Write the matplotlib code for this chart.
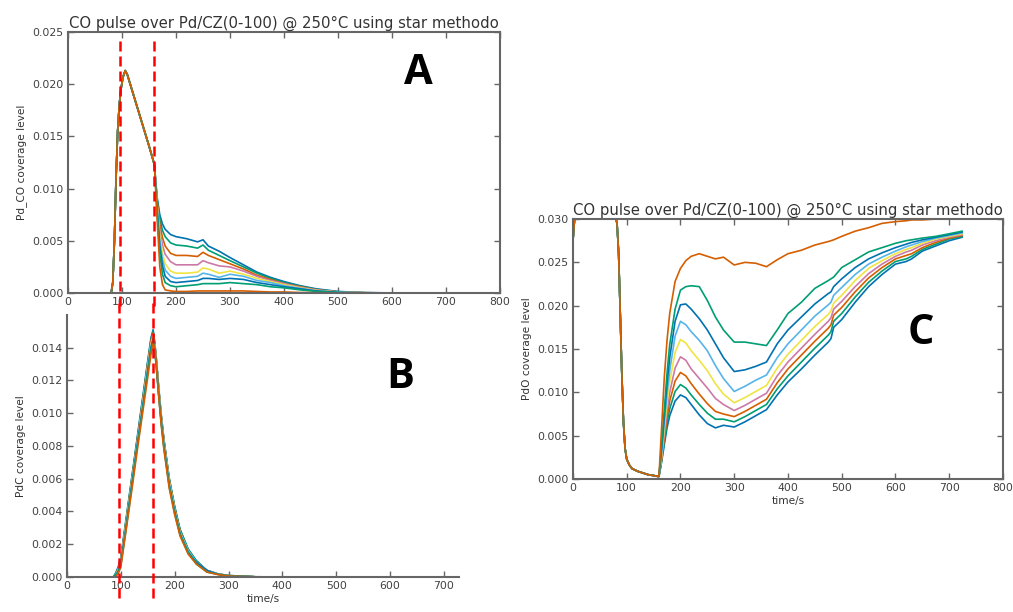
import numpy as np
import matplotlib
matplotlib.use('Agg')
import matplotlib.pyplot as plt

# old seaborn colorblind cycle
colors = ['#0072B2', '#009E73', '#D55E00', '#CC79A7', '#F0E442', '#56B4E9']
title = 'CO pulse over Pd/CZ(0-100) @ 250°C using star methodo'
pulse_marks = [97, 160]

# --- panel A: Pd_CO coverage (rise shared by all runs, tail per run) ---
t_co_rise = [0, 80, 83, 86, 89, 92, 95, 98, 102, 106, 110, 120, 130, 140, 150]
co_rise = [0, 0, 0.001, 0.005, 0.011, 0.0155, 0.018, 0.0195, 0.0207, 0.0213,
           0.0209, 0.0192, 0.0175, 0.0158, 0.0141]
t_co_tail = [160, 165, 170, 175, 180, 190, 200, 220, 240, 250, 260, 280, 300,
             325, 350, 375, 400, 430, 460, 500, 550, 600, 724]
co_tail = [
    [0.0123, 0.0092, 0.0075, 0.0066, 0.0061, 0.0056, 0.0054, 0.0052, 0.0049, 0.0051, 0.0045, 0.0040,
     0.0034, 0.0027, 0.0020, 0.0015, 0.0011, 0.0007, 0.0004, 0.00015, 0.00004, 0.00001, 0],
    [0.0123, 0.0090, 0.0071, 0.0060, 0.0054, 0.0048, 0.0046, 0.0045, 0.0043, 0.0046, 0.0041, 0.0036,
     0.0031, 0.0025, 0.0019, 0.0014, 0.0010, 0.00065, 0.00035, 0.00012, 0.00003, 0.00001, 0],
    [0.0123, 0.0088, 0.0066, 0.0053, 0.0045, 0.0038, 0.0036, 0.0036, 0.0035, 0.0039, 0.0036, 0.0032,
     0.0028, 0.0023, 0.0017, 0.0013, 0.0009, 0.0006, 0.0003, 0.0001, 0.00003, 0, 0],
    [0.0123, 0.0086, 0.0060, 0.0046, 0.0037, 0.0030, 0.0027, 0.0027, 0.0027, 0.0031, 0.0029, 0.0026,
     0.0025, 0.0021, 0.0016, 0.0012, 0.0009, 0.00055, 0.0003, 0.0001, 0.00002, 0, 0],
    [0.0123, 0.0084, 0.0055, 0.0038, 0.0028, 0.0021, 0.0019, 0.0019, 0.0020, 0.0024, 0.0023, 0.0019,
     0.0021, 0.0018, 0.0014, 0.0011, 0.0008, 0.0005, 0.00025, 0.00008, 0.00002, 0, 0],
    [0.0123, 0.0082, 0.0050, 0.0032, 0.0022, 0.0016, 0.0014, 0.0015, 0.0016, 0.0019, 0.0018, 0.0015,
     0.0018, 0.0016, 0.0012, 0.0010, 0.0007, 0.00045, 0.0002, 0.00007, 0.00002, 0, 0],
    [0.0123, 0.0080, 0.0045, 0.0026, 0.0016, 0.0011, 0.0010, 0.0011, 0.0012, 0.0014, 0.0014, 0.0013,
     0.0014, 0.0013, 0.0010, 0.0008, 0.0006, 0.0004, 0.0002, 0.00006, 0.00001, 0, 0],
    [0.0123, 0.0078, 0.0038, 0.0018, 0.0010, 0.0007, 0.0006, 0.0007, 0.0008, 0.0009, 0.0009, 0.0009,
     0.0010, 0.0009, 0.0008, 0.0006, 0.0005, 0.0003, 0.00015, 0.00005, 0.00001, 0, 0],
    [0.0123, 0.0072, 0.0025, 0.0008, 0.0003, 0.0002, 0.00015, 0.00015, 0.0002, 0.0002, 0.0002, 0.0002,
     0.0002, 0.0002, 0.00015, 0.0001, 0.0001, 0.00005, 0.00003, 0.00001, 0, 0, 0],
]

# --- panel B: PdC coverage ---
t_pdc = [0, 86, 90, 95, 100, 110, 120, 130, 140, 150, 156, 160, 163, 166, 170, 175, 180,
         190, 200, 210, 225, 240, 260, 280, 300, 350, 724]
pdc = [
    [0, 0, 0.0002, 0.0006, 0.0012, 0.0036, 0.0060, 0.0084, 0.0108, 0.0132, 0.0146, 0.0151, 0.0143, 0.0133,
     0.0117, 0.0099, 0.0084, 0.0060, 0.0043, 0.0029, 0.0017, 0.0010, 0.0004, 0.00019, 0.00009, 0.00001, 0],
    [0, 0, 0.0002, 0.0005, 0.0011, 0.0035, 0.0059, 0.0083, 0.0107, 0.0131, 0.0145, 0.0150, 0.0143, 0.0133,
     0.0117, 0.0099, 0.0084, 0.0060, 0.0043, 0.0029, 0.0017, 0.0010, 0.0004, 0.00019, 0.00009, 0.00001, 0],
    [0, 0, 0.0001, 0.0005, 0.0010, 0.0034, 0.0058, 0.0082, 0.0106, 0.0130, 0.0144, 0.0149, 0.0142, 0.0132,
     0.0116, 0.0098, 0.0083, 0.0059, 0.0042, 0.0028, 0.0016, 0.0009, 0.0004, 0.00018, 0.00008, 0.00001, 0],
    [0, 0, 0.0001, 0.0004, 0.0010, 0.0033, 0.0057, 0.0081, 0.0105, 0.0129, 0.0143, 0.0148, 0.0141, 0.0131,
     0.0115, 0.0097, 0.0082, 0.0058, 0.0041, 0.0027, 0.0016, 0.0009, 0.0004, 0.00018, 0.00008, 0.00001, 0],
    [0, 0, 0.0001, 0.0004, 0.0009, 0.0033, 0.0057, 0.0080, 0.0104, 0.0128, 0.0142, 0.0147, 0.0141, 0.0131,
     0.0115, 0.0097, 0.0082, 0.0058, 0.0041, 0.0027, 0.0016, 0.0009, 0.0004, 0.00018, 0.00008, 0.00001, 0],
    [0, 0, 0.0001, 0.0004, 0.0009, 0.0032, 0.0056, 0.0080, 0.0103, 0.0127, 0.0141, 0.0146, 0.0140, 0.0130,
     0.0114, 0.0096, 0.0081, 0.0057, 0.0040, 0.0027, 0.0016, 0.0009, 0.0004, 0.00017, 0.00008, 0.00001, 0],
    [0, 0, 0.0001, 0.0003, 0.0008, 0.0031, 0.0055, 0.0079, 0.0102, 0.0126, 0.0140, 0.0145, 0.0139, 0.0129,
     0.0113, 0.0095, 0.0080, 0.0056, 0.0040, 0.0026, 0.0015, 0.0009, 0.0004, 0.00017, 0.00007, 0.00001, 0],
    [0, 0, 0.0001, 0.0003, 0.0007, 0.0030, 0.0054, 0.0078, 0.0101, 0.0125, 0.0139, 0.0145, 0.0138, 0.0128,
     0.0112, 0.0094, 0.0079, 0.0055, 0.0039, 0.0026, 0.0015, 0.0008, 0.0003, 0.00016, 0.00007, 0.00001, 0],
    [0, 0, 0, 0.0002, 0.0006, 0.0029, 0.0052, 0.0076, 0.0099, 0.0122, 0.0136, 0.0143, 0.0140, 0.0130,
     0.0112, 0.0093, 0.0078, 0.0054, 0.0038, 0.0025, 0.0014, 0.0008, 0.0003, 0.00015, 0.00006, 0.00001, 0],
]

# --- panel C: PdO coverage (drop shared, recovery per run) ---
t_pdo_drop = [0, 3, 80, 82, 85, 88, 91, 94, 97, 100, 105, 110, 120, 130, 140, 150, 158, 160]
pdo_drop = [0.0275, 0.030, 0.030, 0.0295, 0.026, 0.019, 0.012, 0.0065, 0.0035, 0.0023, 0.0016,
            0.0012, 0.0009, 0.0007, 0.0005, 0.0004, 0.0003, 0.0003]
t_pdo_rec = [165, 170, 175, 180, 190, 200, 210, 220, 235, 250, 265, 280, 300, 320, 340, 360, 380,
             400, 425, 450, 475, 480, 485, 500, 525, 550, 575, 600, 620, 630, 650, 675, 700, 724]
pdo_rec = [
    [0.002, 0.004, 0.0059, 0.0073, 0.009, 0.0097, 0.0094, 0.0086, 0.0074, 0.0064, 0.0059, 0.0062,
     0.006, 0.0066, 0.0073, 0.008, 0.0097, 0.0112, 0.0127, 0.0143, 0.0158, 0.0162, 0.0175, 0.0184,
     0.0204, 0.0222, 0.0236, 0.0248, 0.0251, 0.0254, 0.0263, 0.0269, 0.0275, 0.0279],
    [0.0021, 0.0043, 0.0065, 0.0081, 0.0101, 0.0109, 0.0105, 0.0097, 0.0086, 0.0076, 0.0069, 0.0069,
     0.0066, 0.0072, 0.0079, 0.0086, 0.0104, 0.0119, 0.0135, 0.0151, 0.0166, 0.0170, 0.0182, 0.0191,
     0.0210, 0.0227, 0.0240, 0.0251, 0.0254, 0.0257, 0.0265, 0.0271, 0.0277, 0.0280],
    [0.0023, 0.0047, 0.0071, 0.009, 0.0113, 0.0123, 0.0119, 0.011, 0.0098, 0.0087, 0.0078, 0.0075,
     0.0072, 0.0078, 0.0085, 0.0092, 0.0111, 0.0127, 0.0143, 0.0159, 0.0174, 0.0178, 0.0189, 0.0198,
     0.0216, 0.0232, 0.0244, 0.0254, 0.0258, 0.0260, 0.0267, 0.0273, 0.0278, 0.0281],
    [0.0025, 0.0052, 0.0079, 0.0100, 0.0128, 0.0141, 0.0137, 0.0127, 0.0116, 0.0105, 0.0093, 0.0086,
     0.0079, 0.0085, 0.0092, 0.0099, 0.0119, 0.0135, 0.0151, 0.0167, 0.0182, 0.0186, 0.0196, 0.0205,
     0.0222, 0.0237, 0.0248, 0.0257, 0.0262, 0.0264, 0.0270, 0.0275, 0.0279, 0.0282],
    [0.0027, 0.0058, 0.0088, 0.0112, 0.0146, 0.0161, 0.0157, 0.0148, 0.0137, 0.0125, 0.011, 0.0098,
     0.0088, 0.0094, 0.0101, 0.0108, 0.0128, 0.0144, 0.0160, 0.0176, 0.0190, 0.0194, 0.0203, 0.0212,
     0.0229, 0.0243, 0.0252, 0.0260, 0.0265, 0.0267, 0.0272, 0.0277, 0.0280, 0.0283],
    [0.003, 0.0065, 0.0098, 0.0125, 0.0165, 0.0182, 0.0178, 0.017, 0.016, 0.0148, 0.0131, 0.0116,
     0.0101, 0.0107, 0.0114, 0.012, 0.014, 0.0156, 0.0172, 0.0188, 0.0201, 0.0204, 0.0212, 0.0221,
     0.0236, 0.0248, 0.0256, 0.0263, 0.0268, 0.0270, 0.0274, 0.0278, 0.0281, 0.0284],
    [0.0035, 0.0072, 0.011, 0.014, 0.0182, 0.0201, 0.0202, 0.0196, 0.0185, 0.0172, 0.0156, 0.014,
     0.0124, 0.0126, 0.013, 0.0135, 0.0156, 0.0172, 0.0187, 0.0202, 0.0214, 0.0216, 0.0222, 0.0231,
     0.0244, 0.0254, 0.0261, 0.0267, 0.0271, 0.0273, 0.0276, 0.0279, 0.0282, 0.0285],
    [0.004, 0.008, 0.0122, 0.0155, 0.0196, 0.0218, 0.0222, 0.0223, 0.0222, 0.0206, 0.0187, 0.0172,
     0.0158, 0.0158, 0.0156, 0.0154, 0.0172, 0.0191, 0.0204, 0.0220, 0.0229, 0.0231, 0.0233, 0.0244,
     0.0253, 0.0262, 0.0267, 0.0272, 0.0275, 0.0276, 0.0278, 0.028, 0.0283, 0.0286],
    [0.006, 0.0118, 0.016, 0.0191, 0.0228, 0.0243, 0.0252, 0.0257, 0.026, 0.0257, 0.0254, 0.0256,
     0.0247, 0.025, 0.0249, 0.0245, 0.0253, 0.026, 0.0264, 0.027, 0.0274, 0.0275, 0.0276, 0.028,
     0.0286, 0.029, 0.0295, 0.0297, 0.0298, 0.0299, 0.0299, 0.03, 0.03, 0.03],
]

plt.rcParams['font.family'] = 'DejaVu Sans'
fig = plt.figure(figsize=(10.13, 6.12), dpi=100)
fig.patch.set_facecolor('white')

ax_a = fig.add_axes([0.0671, 0.5212, 0.4265, 0.4265])
ax_b = fig.add_axes([0.0661, 0.0572, 0.3870, 0.4281])
ax_c = fig.add_axes([0.5656, 0.2173, 0.4245, 0.4248])


def style(ax, top_right=True):
    for name, sp in ax.spines.items():
        sp.set_color('0.4')
        sp.set_linewidth(1.5)
    ax.tick_params(direction='in', length=4, width=1, color='0.4', labelsize=7.8,
                   labelcolor='0.25', top=top_right, right=top_right, pad=3)


for i in range(9):
    ax_a.plot(t_co_rise + t_co_tail, co_rise + co_tail[i], color=colors[i % 6], lw=1.2)
ax_a.set_xlim(0, 800)
ax_a.set_ylim(0, 0.025)
ax_a.set_yticks(np.arange(0, 0.0251, 0.005))
ax_a.set_title(title, fontsize=10.7, color='0.2', pad=3)
ax_a.set_ylabel('Pd_CO coverage level', fontsize=7.6, color='0.2')
style(ax_a)

for i in range(9):
    ax_b.plot(t_pdc, pdc[i], color=colors[i % 6], lw=1.2)
ax_b.set_xlim(0, 728)
ax_b.set_ylim(0, 0.016)
ax_b.set_yticks(np.arange(0, 0.0141, 0.002))
ax_b.set_xlabel('time/s', fontsize=7.6, color='0.2', labelpad=2)
ax_b.set_ylabel('PdC coverage level', fontsize=7.6, color='0.2')
ax_b.spines['top'].set_visible(False)
ax_b.spines['right'].set_visible(False)
style(ax_b, top_right=False)

for i in range(9):
    ax_c.plot(t_pdo_drop + t_pdo_rec, pdo_drop + pdo_rec[i], color=colors[i % 6], lw=1.2)
ax_c.set_xlim(0, 800)
ax_c.set_ylim(0, 0.030)
ax_c.set_title(title, fontsize=10.7, color='0.2', pad=3)
ax_c.set_xlabel('time/s', fontsize=7.6, color='0.2', labelpad=2)
ax_c.set_ylabel('PdO coverage level', fontsize=7.6, color='0.2')
style(ax_c)

# red dashed markers spanning panels A and B
for x in pulse_marks:
    ax_a.axvline(x, ymin=-0.05, ymax=0.97, color='red', lw=1.8, ls=(0, (4, 2)), clip_on=False, zorder=5)
    ax_b.axvline(x, ymin=-0.08, ymax=1.06, color='red', lw=1.8, ls=(0, (4, 2)), clip_on=False, zorder=5)

for ax, letter, xy in [(ax_a, 'A', (0.81, 0.84)), (ax_b, 'B', (0.85, 0.76)), (ax_c, 'C', (0.81, 0.56))]:
    ax.text(xy[0], xy[1], letter, transform=ax.transAxes, fontsize=30, fontweight='bold',
            family='Open Sans', ha='center', va='center', color='black')

fig.savefig('out.png', dpi=100)
